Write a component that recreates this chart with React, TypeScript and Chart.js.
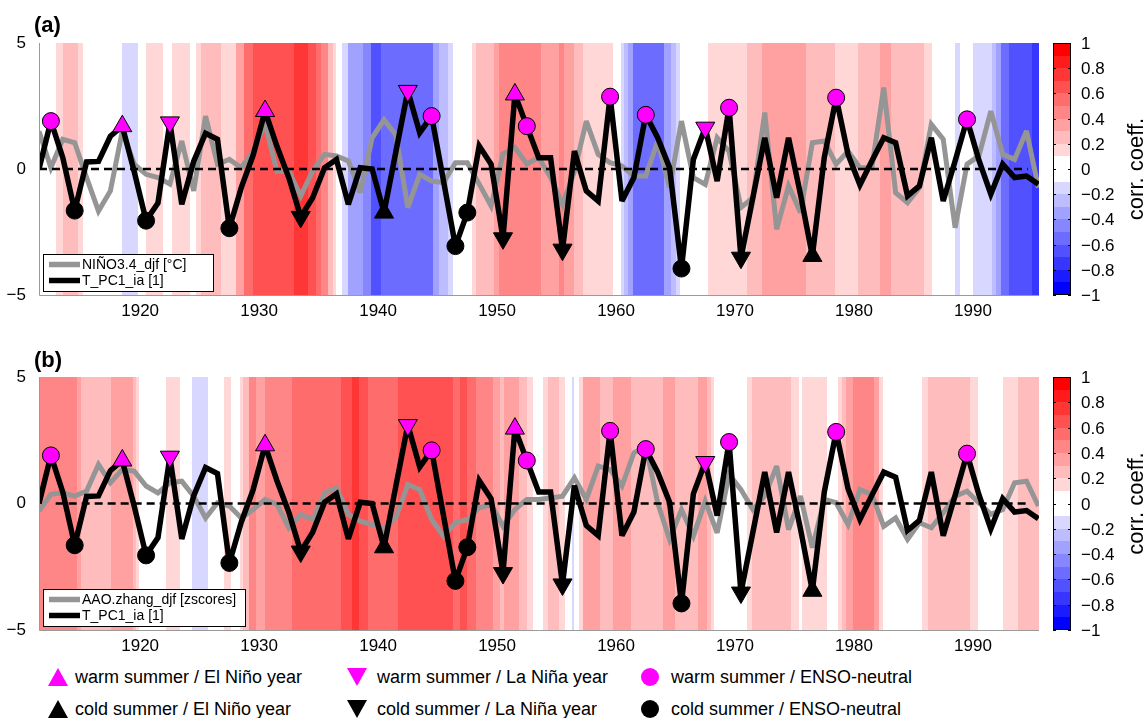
import React, { useEffect, useRef } from "react";
import { Chart, registerables } from "chart.js";

Chart.register(...registerables);

const FONT = '"Liberation Sans", Arial, Helvetica, sans-serif';
Chart.defaults.font.family = FONT;
Chart.defaults.color = "#000";

// ---------------- DATA ----------------
const years = [
  1911, 1912, 1913, 1914, 1915, 1916, 1917, 1918, 1919, 1920,
  1921, 1922, 1923, 1924, 1925, 1926, 1927, 1928, 1929, 1930,
  1931, 1932, 1933, 1934, 1935, 1936, 1937, 1938, 1939, 1940,
  1941, 1942, 1943, 1944, 1945, 1946, 1947, 1948, 1949, 1950,
  1951, 1952, 1953, 1954, 1955, 1956, 1957, 1958, 1959, 1960,
  1961, 1962, 1963, 1964, 1965, 1966, 1967, 1968, 1969, 1970,
  1971, 1972, 1973, 1974, 1975, 1976, 1977, 1978, 1979, 1980,
  1981, 1982, 1983, 1984, 1985, 1986, 1987, 1988, 1989, 1990,
  1991, 1992, 1993, 1994, 1995,
];

// T_PC1_ia [1]
const tPC1 = [
  0.0, 1.9, 0.45, -1.65, 0.28, 0.3, 1.3, 1.7, -0.1, -2.05,
  -1.35, 1.85, -1.4, 0.3, 1.42, 1.18, -2.35, -0.74, 0.55, 2.3,
  0.9, -0.35, -1.9, -1.14, 0.05, 0.38, -1.4, 0.05, 0.0, -1.73,
  0.7, 3.1, 1.44, 2.1, -0.48, -3.06, -1.73, 0.91, 0.19, -2.75,
  2.96, 1.7, 0.45, 0.45, -3.2, 0.71, -0.87, -1.27, 2.87, -1.27,
  -0.34, 2.15, 1.24, 0.05, -3.95, 0.38, 1.64, -0.48, 2.43, -3.52,
  -1.14, 1.24, -1.14, 1.24, -1.0, -3.45, 0.45, 2.83, 0.58, -0.63,
  0.32, 1.24, 1.04, -1.07, -0.67, 1.24, -1.27, 0.32, 1.97, 0.35,
  -1.0, 0.19, -0.34, -0.28, -0.6,
];

// NIÑO3.4_djf [°C]
const nino34 = [
  1.5, 0.05, 1.18, 1.04, -0.34, -1.67, -0.87, 1.5, 0.19, -0.21,
  -0.34, -0.6, 1.11, -0.87, 2.1, 0.19, 0.38, 0.05, 0.71, 1.8,
  -0.1, -0.08, -1.07, -0.08, 0.58, 0.52, 0.32, -0.94, 1.24, 1.95,
  1.35, -1.53, -0.21, -0.48, -0.54, 0.25, 0.25, -0.6, -1.47, 0.6,
  0.85, 0.2, 0.45, -0.34, -1.4, -0.1, 1.9, 0.58, 0.25, 0.12,
  -0.28, -0.28, 1.11, -0.74, 1.9, -0.34, -0.61, 1.24, 0.7, -1.53,
  -1.14, 2.24, -2.39, -0.67, -1.73, 1.04, 1.11, 0.19, 0.71, 0.05,
  0.05, 3.23, -0.94, -1.34, -0.74, 1.77, 1.18, -2.33, 0.19, 0.52,
  2.3, 0.58, 0.38, 1.51, -0.74,
];

// AAO.zhang_djf [zscores]
const aao = [
  -0.3, 0.36, 0.42, 0.29, 0.49, 1.54, 0.82, 1.34, 1.28, 0.69,
  0.42, 0.82, 0.88, 0.29, -0.57, 0.03, -0.1, -0.57, -0.24, 0.16,
  -0.04, -0.96, -0.43, -0.63, 0.42, 0.62, -0.43, -0.7, -0.83, -1.0,
  -0.55, 0.75, 0.55, -0.63, -1.29, -0.76, -0.63, -0.17, -0.04, -0.9,
  -0.24, 0.16, 0.16, 0.22, 0.29, 1.01, 0.16, 1.48, 1.34, 0.69,
  2.0, 2.27, 0.03, -1.42, -0.24, -1.29, 0.09, -1.16, 1.15, 0.55,
  -0.24, 0.3, 1.48, -1.03, 0.29, -1.75, 0.16, 0.03, -0.83, 0.55,
  0.36, -0.9, -0.57, -1.42, -0.76, -0.96, -0.37, 0.29, 0.49, 0.03,
  -0.43, -0.24, 0.82, 0.88, -0.1,
];

const xTicks = [1920, 1930, 1940, 1950, 1960, 1970, 1980, 1990];
const yTicks = [-5, 0, 5];
const cbTicks = [1, 0.8, 0.6, 0.4, 0.2, 0, -0.2, -0.4, -0.6, -0.8, -1];

const warmElNino = [1918, 1930, 1951];
const warmLaNina = [1922, 1942, 1967];
const warmNeutral = [1912, 1944, 1952, 1959, 1962, 1969, 1978, 1989];
const coldElNino = [1940, 1976];
const coldLaNina = [1933, 1950, 1955, 1970];
const coldNeutral = [1914, 1920, 1927, 1946, 1947, 1965];

// running correlation shading, panel (a): band start (year) and corr. coeff.
const corrStartA = [
  1911.5, 1912.94, 1913.5, 1914.76, 1915.18, 1918.49, 1919.8, 1920.5, 1921.9, 1922.66,
  1924.2, 1924.7, 1925.13, 1926.8, 1928.07, 1928.77, 1929.47, 1932.97, 1934.1, 1934.8,
  1935.2, 1935.77, 1936.19, 1936.47, 1936.97, 1937.45, 1938.7, 1939.4, 1940.25, 1944.6,
  1945.15, 1945.86, 1946.28, 1947.9, 1948.24, 1949.78, 1950.2, 1953.7, 1955.24, 1955.66,
  1956.5, 1957.2, 1959.78, 1960.42, 1960.7, 1960.98, 1961.4, 1964.06, 1964.62, 1965.04,
  1965.38, 1967.7, 1970.98, 1972.27, 1975.97, 1978.43, 1980.31, 1982.18, 1983.1, 1985.9,
  1986.55, 1988.46, 1988.9, 1989.97, 1991.6, 1991.93, 1992.35, 1993.05, 1995.0,
];
const corrA = [
  0, 0.15, 0.25, 0.15, 0, -0.15, 0, 0.15, 0, 0.15,
  0, 0.15, 0.25, 0.15, 0.35, 0.55, 0.65, 0.75, 0.65, 0.55,
  0.45, 0.25, 0.15, 0, -0.15, -0.35, -0.45, -0.65, -0.55, -0.35,
  -0.25, -0.15, 0, 0.15, 0.25, 0.35, 0.45, 0.35, 0.45, 0.35,
  0.25, 0.15, 0, -0.15, -0.25, -0.35, -0.55, -0.35, -0.25, -0.15,
  0, 0.15, 0.25, 0.35, 0.25, 0.15, 0.25, 0.35, 0.25, 0.15,
  0, -0.15, 0, -0.15, -0.25, -0.35, -0.55, -0.65, -0.75,
];

// panel (b)
const corrStartB = [
  1911.5, 1914.68, 1915.04, 1917.56, 1919.38, 1919.66, 1919.94, 1922.18, 1923.36, 1924.37,
  1925.69, 1927.09, 1927.65, 1928.4, 1928.68, 1929.19, 1929.75, 1930.5, 1932.77, 1936.9,
  1937.82, 1938.43, 1939.13, 1941.71, 1946.28, 1946.89, 1947.45, 1948.24, 1949.64, 1950.25,
  1950.6, 1951.88, 1952.5, 1953.0, 1953.84, 1954.26, 1955.18, 1955.74, 1956.3, 1956.44,
  1956.92, 1957.25, 1958.66, 1959.78, 1961.26, 1963.92, 1964.99, 1966.92, 1967.62, 1967.98,
  1968.26, 1970.98, 1971.43, 1974.71, 1975.41, 1975.6, 1977.7, 1978.63, 1978.99, 1979.33,
  1979.89, 1981.71, 1982.13, 1982.41, 1985.71, 1986.19, 1989.75, 1990.39, 1992.55, 1993.75,
];
const corrB = [
  0.45, 0.35, 0.25, 0.35, 0.25, 0.15, 0, 0.15, 0, -0.15,
  0, 0.15, 0, 0.15, 0.25, 0.45, 0.35, 0.45, 0.55, 0.65,
  0.75, 0.65, 0.55, 0.65, 0.55, 0.65, 0.55, 0.45, 0.35, 0.25,
  0.35, 0.25, 0.15, 0, 0.15, 0.25, 0.15, 0, -0.15, 0,
  0.15, 0.35, 0.25, 0.35, 0.25, 0.35, 0.25, 0.35, 0.25, 0.15,
  0, 0.15, 0.25, 0.15, 0, 0.15, 0, 0.15, 0.25, 0.35,
  0.45, 0.35, 0.15, 0, 0.15, 0.25, 0.15, 0, 0.15, 0.25,
];

const zeroLineA = [1911.5, 1994.6];
const zeroLineB = [1912.9, 1994.6];

// ---------------- STYLE ----------------
const MAGENTA = "#ff00ff";
const GRAY = "#959595";

function corrColor(r: number): string {
  const a = Math.abs(r);
  let k = Math.floor(a * 10 + 1e-9);
  if (k < 1) return "#ffffff";
  if (k > 9) k = 9;
  const c = Math.round(Math.max(0, 255 - 26.8 * (k + 0.5)));
  return r > 0 ? `rgb(255,${c},${c})` : `rgb(${c},${c},255)`;
}

const mid = (y: number) => y + 0.5;
const series = (vals: number[]) => years.map((y, i) => ({ x: mid(y), y: vals[i] }));
const markers = (list: number[]) =>
  list.map((y) => ({ x: mid(y), y: tPC1[years.indexOf(y)] }));

function fmtMinus(v: number): string {
  const s = String(Math.abs(Math.round(v * 10) / 10));
  return v < -1e-9 ? "\u2212" + s : s;
}

type PanelCfg = {
  title: string;
  gray: number[];
  grayLabel: string;
  starts: number[];
  corr: number[];
  zero: number[];
  legendWidth: number;
  top: number;
};

function makePlugin(cfg: PanelCfg) {
  return {
    id: "panelDeco",
    beforeDatasetsDraw(chart: any) {
      const { ctx, chartArea: ca, scales } = chart;
      const xs = scales.x;
      ctx.save();
      ctx.beginPath();
      ctx.rect(ca.left, ca.top, ca.right - ca.left, ca.bottom - ca.top);
      ctx.clip();
      for (let i = 0; i < cfg.starts.length; i++) {
        const s = cfg.starts[i];
        const e = i + 1 < cfg.starts.length ? cfg.starts[i + 1] : xs.max;
        const x0 = Math.round(xs.getPixelForValue(s));
        const x1 = Math.round(xs.getPixelForValue(e));
        ctx.fillStyle = corrColor(cfg.corr[i]);
        ctx.fillRect(x0, ca.top, x1 - x0, ca.bottom - ca.top);
      }
      ctx.restore();
      ctx.miterLimit = 3;
    },
    afterDraw(chart: any) {
      const { ctx, chartArea: ca, scales } = chart;
      const cb = scales.cb;
      ctx.save();
      // axis lines
      ctx.strokeStyle = "#9a9a9a";
      ctx.lineWidth = 1;
      ctx.beginPath();
      ctx.moveTo(ca.left + 0.5, ca.top);
      ctx.lineTo(ca.left + 0.5, ca.bottom + 0.5);
      ctx.lineTo(ca.right, ca.bottom + 0.5);
      ctx.stroke();

      // legend box
      const lx = ca.left + 4;
      const ly = ca.bottom - 41;
      ctx.fillStyle = "#fff";
      ctx.fillRect(lx, ly, cfg.legendWidth, 37);
      ctx.strokeStyle = "#000";
      ctx.lineWidth = 1;
      ctx.strokeRect(lx + 0.5, ly + 0.5, cfg.legendWidth, 37);
      const items = [
        { c: GRAY, t: cfg.grayLabel, y: ly + 10.5 },
        { c: "#000", t: "T_PC1_ia [1]", y: ly + 26.5 },
      ];
      ctx.font = `14px ${FONT}`;
      ctx.textBaseline = "middle";
      ctx.textAlign = "left";
      for (const it of items) {
        ctx.strokeStyle = it.c;
        ctx.lineWidth = 5.5;
        ctx.lineCap = "butt";
        ctx.beginPath();
        ctx.moveTo(lx + 6, it.y);
        ctx.lineTo(lx + 37, it.y);
        ctx.stroke();
        ctx.fillStyle = "#000";
        ctx.fillText(it.t, lx + 39, it.y + 1);
      }

      // colorbar
      const bx = ca.right + 14;
      const bw = 18;
      for (let k = -10; k < 10; k++) {
        const v0 = k / 10;
        const v1 = (k + 1) / 10;
        const y0 = Math.round(cb.getPixelForValue(v1));
        const y1 = Math.round(cb.getPixelForValue(v0));
        ctx.fillStyle = corrColor((v0 + v1) / 2);
        ctx.fillRect(bx, y0, bw, y1 - y0);
      }
      ctx.strokeStyle = "#000";
      ctx.lineWidth = 1;
      ctx.strokeRect(bx + 0.5, Math.round(cb.getPixelForValue(1)) + 0.5, bw - 1, Math.round(cb.getPixelForValue(-1)) - Math.round(cb.getPixelForValue(1)) - 1);
      ctx.font = `17px ${FONT}`;
      ctx.fillStyle = "#000";
      ctx.textAlign = "left";
      ctx.textBaseline = "middle";
      for (const v of cbTicks) {
        const y = Math.round(cb.getPixelForValue(v)) + 0.5;
        ctx.beginPath();
        ctx.moveTo(bx, y);
        ctx.lineTo(bx + 3, y);
        ctx.moveTo(bx + bw - 3, y);
        ctx.lineTo(bx + bw, y);
        ctx.stroke();
        ctx.fillText(fmtMinus(v), bx + bw + 10, y + 1);
      }
      // colorbar title
      ctx.save();
      ctx.translate(1137, (ca.top + ca.bottom) / 2);
      ctx.rotate(-Math.PI / 2);
      ctx.textAlign = "center";
      ctx.textBaseline = "middle";
      ctx.font = `22px ${FONT}`;
      ctx.fillText("corr. coeff.", 0, 0);
      ctx.restore();

      // panel title
      ctx.font = `bold 22px ${FONT}`;
      ctx.textAlign = "left";
      ctx.textBaseline = "middle";
      ctx.fillStyle = "#000";
      ctx.fillText(cfg.title, 34, 26);
      ctx.restore();
    },
  };
}

function makeConfig(cfg: PanelCfg): any {
  const markerDs = (list: number[], style: string, rot: number, fill: string, r: number) => ({
    type: "line",
    data: markers(list),
    showLine: false,
    pointStyle: style,
    pointRotation: rot,
    pointRadius: r,
    pointHoverRadius: r,
    pointBackgroundColor: fill,
    pointBorderColor: "#000",
    pointBorderWidth: 1,
    order: 0,
    clip: false,
  });
  return {
    type: "line",
    data: {
      datasets: [
        markerDs(warmElNino, "triangle", 0, MAGENTA, 11),
        markerDs(warmLaNina, "triangle", 180, MAGENTA, 11),
        markerDs(warmNeutral, "circle", 0, MAGENTA, 8.5),
        markerDs(coldElNino, "triangle", 0, "#000", 11),
        markerDs(coldLaNina, "triangle", 180, "#000", 11),
        markerDs(coldNeutral, "circle", 0, "#000", 8.5),
        {
          data: series(tPC1),
          borderColor: "#000",
          borderWidth: 5.5,
          pointRadius: 0,
          tension: 0,
          borderJoinStyle: "miter",
          order: 1,
        },
        {
          data: cfg.zero.map((x) => ({ x, y: 0 })),
          borderColor: "#000",
          borderWidth: 2.5,
          borderDash: [8, 5],
          pointRadius: 0,
          order: 2,
        },
        {
          data: series(cfg.gray),
          borderColor: GRAY,
          borderWidth: 5,
          pointRadius: 0,
          tension: 0,
          borderJoinStyle: "miter",
          order: 3,
        },
      ],
    },
    options: {
      animation: false,
      responsive: false,
      maintainAspectRatio: false,
      events: [],
      layout: { padding: { left: 0, right: 106, top: cfg.top, bottom: 0 } },
      plugins: { legend: { display: false }, tooltip: { enabled: false } },
      scales: {
        x: {
          type: "linear",
          min: 1911.5,
          max: 1995.55,
          afterBuildTicks: (s: any) => {
            s.ticks = xTicks.map((v) => ({ value: v }));
          },
          afterFit: (s: any) => {
            s.height = 27;
          },
          grid: { display: false, drawTicks: false },
          border: { display: false },
          ticks: {
            padding: 6,
            maxRotation: 0,
            autoSkip: false,
            font: { size: 17, family: FONT },
            color: "#000",
            callback: (v: any) => String(v),
          },
        },
        y: {
          type: "linear",
          min: -5,
          max: 5,
          afterBuildTicks: (s: any) => {
            s.ticks = yTicks.map((v) => ({ value: v }));
          },
          afterFit: (s: any) => {
            s.width = 39;
          },
          grid: { display: false, drawTicks: false },
          border: { display: false },
          ticks: {
            padding: 13,
            font: { size: 17, family: FONT },
            color: "#000",
            callback: (v: any) => fmtMinus(Number(v)),
          },
        },
        cb: { type: "linear", min: -1, max: 1, display: false, position: "right" },
      },
    },
    plugins: [makePlugin(cfg)],
  };
}

const panelA: PanelCfg = {
  title: "(a)",
  gray: nino34,
  grayLabel: "NI\u00d1O3.4_djf [\u00b0C]",
  starts: corrStartA,
  corr: corrA,
  zero: zeroLineA,
  legendWidth: 170,
  top: 43,
};
const panelB: PanelCfg = {
  title: "(b)",
  gray: aao,
  grayLabel: "AAO.zhang_djf [zscores]",
  starts: corrStartB,
  corr: corrB,
  zero: zeroLineB,
  legendWidth: 202,
  top: 42,
};

const legendLabels = [
  "warm summer / El Ni\u00f1o year",
  "warm summer / La Ni\u00f1a year",
  "warm summer / ENSO-neutral",
  "cold summer / El Ni\u00f1o year",
  "cold summer / La Ni\u00f1a year",
  "cold summer / ENSO-neutral",
];
const legendShapes = ["up", "down", "circle", "up", "down", "circle"];
const legendColors = [MAGENTA, MAGENTA, MAGENTA, "#000", "#000", "#000"];
const legendMarkerX = [58, 357, 650];
const legendTextX = [75, 377, 671];
const legendRowY = [677, 709];

function Marker({ shape, color, cx, cy }: { shape: string; color: string; cx: number; cy: number }) {
  const w = shape === "circle" ? 18 : 20;
  const h = 18;
  return (
    <svg
      width={w}
      height={h}
      style={{ position: "absolute", left: cx - w / 2, top: cy - h / 2 }}
    >
      {shape === "up" && <polygon points="0,18 10,0 20,18" fill={color} />}
      {shape === "down" && <polygon points="0,0 20,0 10,18" fill={color} />}
      {shape === "circle" && <circle cx={9} cy={9} r={9} fill={color} />}
    </svg>
  );
}

export default function App() {
  const refA = useRef<HTMLCanvasElement>(null);
  const refB = useRef<HTMLCanvasElement>(null);
  useEffect(() => {
    document.body.style.margin = "0";
    const a = new Chart(refA.current as HTMLCanvasElement, makeConfig(panelA));
    const b = new Chart(refB.current as HTMLCanvasElement, makeConfig(panelB));
    return () => {
      a.destroy();
      b.destroy();
    };
  }, []);
  return (
    <div
      style={{
        position: "relative",
        width: 1145,
        height: 718,
        overflow: "hidden",
        background: "#fff",
        fontFamily: FONT,
      }}
    >
      <canvas ref={refA} width={1145} height={322} style={{ position: "absolute", left: 0, top: 0 }} />
      <canvas ref={refB} width={1145} height={322} style={{ position: "absolute", left: 0, top: 335 }} />
      {legendLabels.map((label, i) => {
        const col = i % 3;
        const row = Math.floor(i / 3);
        const cy = legendRowY[row];
        return (
          <React.Fragment key={label}>
            <Marker shape={legendShapes[i]} color={legendColors[i]} cx={legendMarkerX[col]} cy={cy} />
            <div
              style={{
                position: "absolute",
                left: legendTextX[col],
                top: cy - 11,
                fontSize: 18,
                lineHeight: "22px",
                whiteSpace: "nowrap",
                color: "#000",
              }}
            >
              {label}
            </div>
          </React.Fragment>
        );
      })}
    </div>
  );
}
